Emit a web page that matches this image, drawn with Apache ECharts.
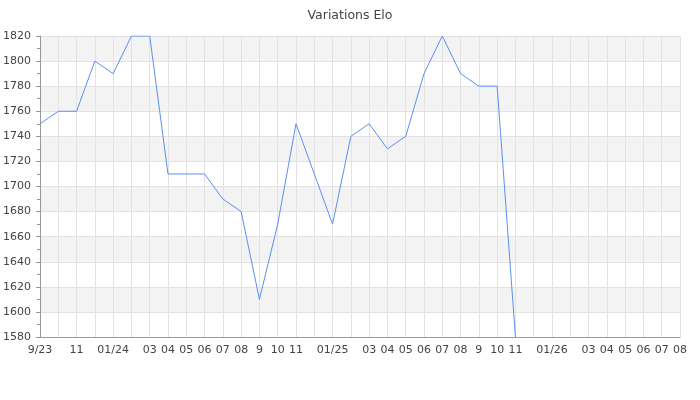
<!DOCTYPE html>
<html>
<head>
<meta charset="utf-8">
<script src="https://cdn.jsdelivr.net/npm/echarts@6/dist/echarts.min.js"></script>
<style>html,body{margin:0;padding:0;background:#fff}#c{width:700px;height:400px}</style>
</head>
<body>
<div id="c"></div>
<script>
var months = ['2023-09','2023-10','2023-11','2023-12','2024-01','2024-02','2024-03','2024-04','2024-05','2024-06','2024-07','2024-08','2024-09','2024-10','2024-11','2024-12','2025-01','2025-02','2025-03','2025-04','2025-05','2025-06','2025-07','2025-08','2025-09','2025-10','2025-11','2025-12','2026-01','2026-02','2026-03','2026-04','2026-05','2026-06','2026-07','2026-08'];
var tickLabels = ['9/23','','11','','01/24','','03','04','05','06','07','08','9','10','11','','01/25','','03','04','05','06','07','08','9','10','11','','01/26','','03','04','05','06','07','08'];
var elo = [1750,1760,1760,1800,1790,1820,1820,1710,1710,1710,1690,1680,1610,1670,1750,1710,1670,1740,1750,1730,1740,1790,1820,1790,1780,1780,1580];
var yTicks = [1580,1600,1620,1640,1660,1680,1700,1720,1740,1760,1780,1800,1820];

var chart = echarts.init(document.getElementById('c'), null, {renderer:'canvas'});
var font = 'DejaVu Sans';
chart.setOption({
  animation:false,
  backgroundColor:'#fff',
  title:{text:'Variations Elo',left:'center',top:4,textStyle:{fontFamily:font,fontSize:12.5,fontWeight:'normal',color:'#444'}},
  grid:{left:40,right:20,top:36,bottom:63,containLabel:false,outerBoundsMode:'none'},
  xAxis:{
    type:'category',data:months,boundaryGap:false,
    axisLine:{lineStyle:{color:'#999'}},
    axisTick:{show:false},
    axisLabel:{interval:0,margin:8,fontFamily:font,fontSize:11,color:'#444',
      formatter:function(v,i){return tickLabels[i];}},
    splitLine:{show:true,interval:0,lineStyle:{color:'#e3e3e3',width:1}}
  },
  yAxis:{
    type:'value',min:yTicks[0],max:yTicks[yTicks.length-1],interval:20,
    axisLine:{show:true,lineStyle:{color:'#999'}},
    axisTick:{show:true,length:4,lineStyle:{color:'#999'}},
    minorTick:{show:true,splitNumber:2,length:3,lineStyle:{color:'#999'}},
    axisLabel:{margin:9,fontFamily:font,fontSize:11,color:'#444',formatter:function(v){return String(v);}},
    splitLine:{show:true,lineStyle:{color:'#e3e3e3',width:1}},
    splitArea:{show:true,areaStyle:{color:['#ffffff','#f3f3f3']}}
  },
  series:[{type:'line',data:elo,showSymbol:false,symbol:'none',clip:true,
    lineStyle:{color:'#5b8ff0',width:1}}]
});
</script>
</body>
</html>
